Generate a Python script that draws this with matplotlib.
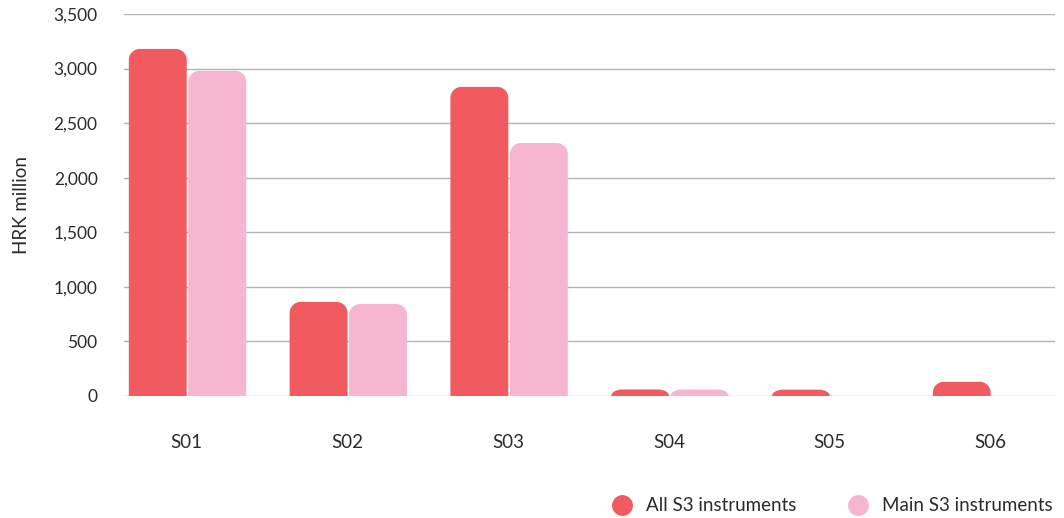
import matplotlib
matplotlib.use("Agg")
import matplotlib.pyplot as plt
from matplotlib.path import Path
from matplotlib.patches import PathPatch
from matplotlib.lines import Line2D
from matplotlib.ticker import FuncFormatter

plt.rcParams['font.family'] = ['Lato', 'DejaVu Sans']

categories = ["S01", "S02", "S03", "S04", "S05", "S06"]
all_s3 = [3180, 862, 2832, 60, 58, 130]
main_s3 = [2980, 843, 2318, 60, 0, 0]
series_names = ["All S3 instruments", "Main S3 instruments"]
colors = ["#f15a5f", "#f6b6d0"]
text_color = "#2b2b2b"

W, H, DPI = 1064, 518, 100
fig = plt.figure(figsize=(W / DPI, H / DPI), dpi=DPI)
ax = fig.add_axes([124 / W, 1 - 396 / H, (1055 - 124) / W, (396 - 14) / H])

x = list(range(len(categories)))
bw = 0.36
ax.set_xlim(-0.39, len(categories) - 1 + 0.40)
ax.set_ylim(0, 3500)

# data units per pixel
px_x = (ax.get_xlim()[1] - ax.get_xlim()[0]) / (1055 - 124)
px_y = 3500 / (396 - 14)
r_px = 11


def rounded_bar(x0, width, height, color):
    if height <= 0:
        return
    rx = min(r_px * px_x, width / 2)
    ry = min(r_px * px_y, height)
    x1 = x0 + width
    k = 0.5523
    verts = [
        (x0, 0), (x0, height - ry),
        (x0, height - ry + k * ry), (x0 + rx - k * rx, height), (x0 + rx, height),
        (x1 - rx, height),
        (x1 - rx + k * rx, height), (x1, height - ry + k * ry), (x1, height - ry),
        (x1, 0), (x0, 0),
    ]
    codes = [Path.MOVETO, Path.LINETO,
             Path.CURVE4, Path.CURVE4, Path.CURVE4,
             Path.LINETO,
             Path.CURVE4, Path.CURVE4, Path.CURVE4,
             Path.LINETO, Path.CLOSEPOLY]
    ax.add_patch(PathPatch(Path(verts, codes), facecolor=color,
                           edgecolor="none", zorder=3))


for xi, a, m in zip(x, all_s3, main_s3):
    rounded_bar(xi - bw, bw, a, colors[0])
    rounded_bar(xi + 0.01, bw, m, colors[1])

ax.set_yticks(range(0, 3501, 500))
ax.yaxis.set_major_formatter(FuncFormatter(lambda v, p: f"{int(v):,}"))
ax.set_xticks(x)
ax.set_xticklabels(categories)
ax.grid(axis="y", color="#b3b3b3", linewidth=1, zorder=0)
ax.set_axisbelow(True)
for s in ax.spines.values():
    s.set_visible(False)
ax.tick_params(axis="both", length=0, colors=text_color)
ax.tick_params(axis="x", pad=27, labelsize=13.5)
ax.tick_params(axis="y", pad=19, labelsize=12.5)
ax.set_ylabel("HRK million", fontsize=13.5, color=text_color, labelpad=17)

handles = [Line2D([], [], marker="o", linestyle="none", markersize=15,
                  markerfacecolor=c, markeredgecolor="none") for c in colors]
fig.legend(handles, series_names, loc="lower right",
           bbox_to_anchor=(1070 / W, -0.025), ncol=2, frameon=False,
           fontsize=13.5, handletextpad=0.3, columnspacing=2.3,
           labelcolor=text_color)

fig.savefig("out.png", dpi=DPI, facecolor="white")
